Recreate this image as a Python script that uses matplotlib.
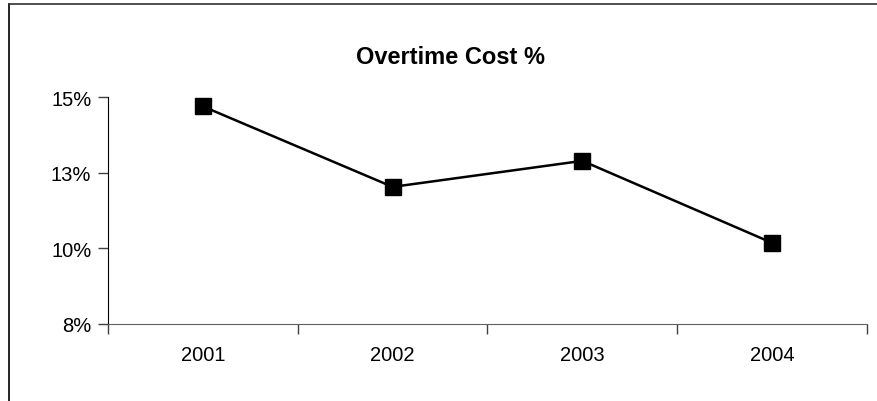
import matplotlib
matplotlib.use("Agg")
import matplotlib.pyplot as plt
from matplotlib.lines import Line2D

plt.rcParams['font.family'] = ['Liberation Sans', 'DejaVu Sans']

years = ["2001", "2002", "2003", "2004"]
overtime_pct = [14.69, 12.03, 12.89, 10.18]
yticks = [7.5, 10.0, 12.5, 15.0]
ytick_labels = ["8%", "10%", "13%", "15%"]

fig = plt.figure(figsize=(8.78, 4.02), dpi=100)
ax = fig.add_axes([108 / 878, 1 - 325 / 402, 759 / 878, 227 / 402])

x = [i + 0.5 for i in range(len(years))]
ax.plot(x, overtime_pct, color="black", lw=1.8, marker="s", ms=11.5,
        mfc="black", mec="black", solid_joinstyle="miter")

ax.set_xlim(0, len(years))
ax.set_ylim(7.5, 15.0)
ax.set_yticks(yticks)
ax.set_yticklabels(ytick_labels)
ax.set_xticks(range(len(years) + 1))
ax.set_xticklabels([])
ax.set_xticks(x, minor=True)
ax.set_xticklabels(years, minor=True)
ax.tick_params(axis="x", which="minor", length=0, pad=15, labelsize=14.5)
ax.tick_params(axis="x", which="major", length=7, width=1, color="#404040", direction="out")
ax.tick_params(axis="y", length=7, width=1, color="#404040", direction="out", pad=5, labelsize=14.5)

for side in ("top", "right"):
    ax.spines[side].set_visible(False)
ax.spines["left"].set_color("black")
ax.spines["bottom"].set_color("#606060")

fig.text(450 / 878, 1 - 57 / 402, "Overtime Cost %", ha="center", va="center",
         fontsize=17, fontweight="bold")

# chart frame (left and top edges only show)
fig.add_artist(Line2D([9.5 / 878, 9.5 / 878], [1 - 5 / 402, 0], transform=fig.transFigure,
                      color="black", lw=1.2))
fig.add_artist(Line2D([9.5 / 878, 1], [1 - 5 / 402, 1 - 5 / 402], transform=fig.transFigure,
                      color="#303030", lw=1.2))

fig.savefig("out.png", dpi=100)
